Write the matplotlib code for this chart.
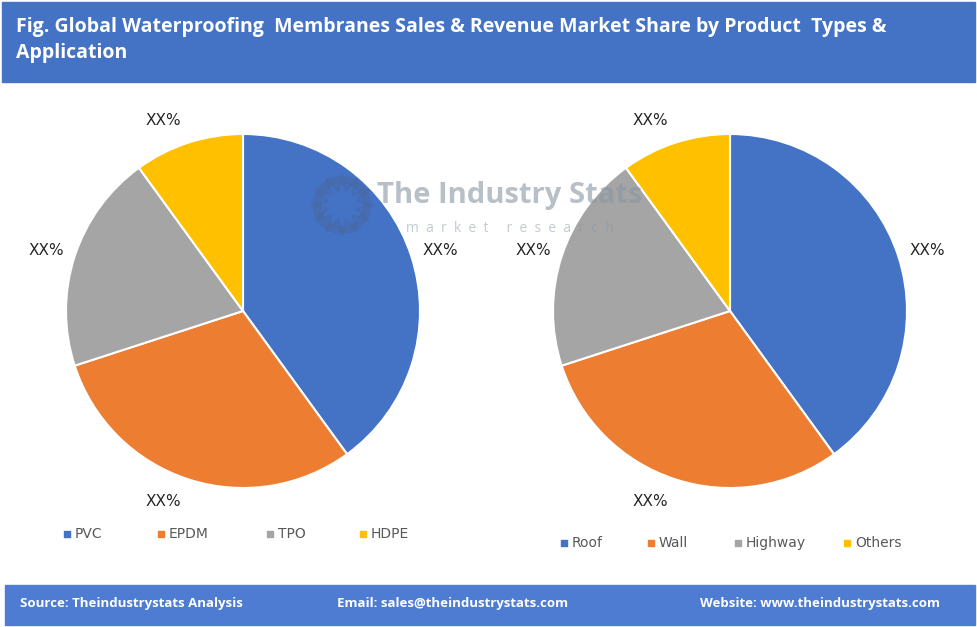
import numpy as np
import matplotlib.pyplot as plt
from matplotlib.patches import Rectangle

# Dados
tipos = ['PVC', 'EPDM', 'TPO', 'HDPE']
tipos_share = [40, 30, 20, 10]
aplicacoes = ['Roof', 'Wall', 'Highway', 'Others']
aplicacoes_share = [40, 30, 20, 10]
rotulos = ['XX%', 'XX%', 'XX%', 'XX%']
cores = ['#4472C4', '#ED7D31', '#A5A5A5', '#FFC000']

titulo = ('Fig. Global Waterproofing  Membranes Sales & Revenue Market Share by Product  Types &\n'
          'Application')
rodape = ['Source: Theindustrystats Analysis',
          'Email: sales@theindustrystats.com',
          'Website: www.theindustrystats.com']

W, H = 977, 627
fig = plt.figure(figsize=(W / 100, H / 100), dpi=100)
ax = fig.add_axes([0, 0, 1, 1])
ax.set_xlim(0, W)
ax.set_ylim(0, H)
ax.set_aspect('equal')
ax.axis('off')


def py(y):
    # converte y em pixels (de cima) para coordenada do eixo
    return H - y


# Barra do título
ax.add_patch(Rectangle((2, py(82)), 973, 80, color='#4472C4', zorder=1))
ax.text(16, py(40), titulo, color='white', fontsize=14, fontweight='bold',
        family='Open Sans', va='center', ha='left', linespacing=1.45, zorder=2)

# Barra do rodapé
ax.add_patch(Rectangle((5, py(625)), 970, 40, color='#4D7CD2', zorder=1))
for txt, x in zip(rodape, [20, 337, 700]):
    ax.text(x, py(603), txt, color='white', fontsize=9.5, fontweight='bold',
            family='Open Sans', va='center', ha='left', zorder=2)

# Marca d'água
ax.text(510, py(195), 'The Industry Stats', color='#8a96a3', alpha=0.6, fontsize=21,
        fontweight='bold', family='Open Sans', ha='center', va='center', zorder=5)
ax.text(510, py(229), 'm  a  r  k  e  t     r  e  s  e  a  r  c  h', color='#8a96a3', alpha=0.5,
        fontsize=10, family='Open Sans', ha='center', va='center', zorder=5)
ax.scatter([342], [py(205)], s=1300, marker='o', facecolor='none', edgecolor='#4a6494',
           linewidth=6, alpha=0.35, zorder=5)
ax.scatter([342], [py(205)], s=1900, marker=(12, 1, 0), facecolor='none', edgecolor='#4a6494',
           linewidth=2, alpha=0.3, zorder=5)

R = 177


def desenha_pizza(centro, valores, nomes, leg_x, leg_y):
    wedges, textos = ax.pie(valores, colors=cores, startangle=90, counterclock=False,
                            center=centro, radius=R, labels=rotulos, labeldistance=1.17,
                            wedgeprops=dict(edgecolor='white', linewidth=1.5),
                            textprops=dict(fontsize=11, color='#262626'))
    for w, t in zip(wedges, textos):
        t.set_ha('center')
        t.set_va('center')
        ang = np.deg2rad((w.theta1 + w.theta2) / 2)
        dx, dy = np.cos(ang), np.sin(ang)
        if abs(dy) > abs(dx):
            # rótulos de cima/baixo ficam um pouco mais à esquerda
            t.set_position((centro[0] + 1.17 * R * dx - 16, centro[1] + 1.13 * R * dy))
        else:
            t.set_position((centro[0] + 1.17 * R * dx, centro[1] + 1.17 * R * dy - 3))
    ax.set_xlim(0, W)
    ax.set_ylim(0, H)
    # legenda
    for nome, cor, x in zip(nomes, cores, leg_x):
        ax.scatter([x], [py(leg_y)], marker='s', s=16, color=cor, zorder=3)
        ax.text(x + 8, py(leg_y), nome, fontsize=10, color='#595959',
                ha='left', va='center')


desenha_pizza((243, py(311)), tipos_share, tipos, [67, 161, 270, 363], 534)
desenha_pizza((730, py(311)), aplicacoes_share, aplicacoes, [564, 651, 738, 847], 543)

fig.savefig('out.png', dpi=100)
